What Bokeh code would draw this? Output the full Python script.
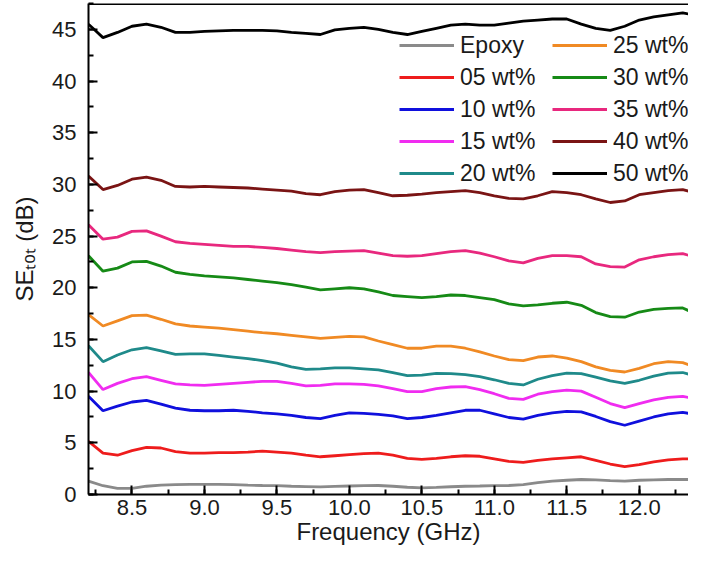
from bokeh.plotting import figure
from bokeh.models import (Legend, LegendItem, SingleIntervalTicker, PrintfTickFormatter,
                          Span, Range1d)
from bokeh.embed import file_html
from bokeh.resources import INLINE

# ---------------- data ----------------
freq = [8.2, 8.3, 8.4, 8.5, 8.6, 8.7, 8.8, 8.9, 9.0, 9.1, 9.2, 9.3, 9.4, 9.5, 9.6,
        9.7, 9.8, 9.9, 10.0, 10.1, 10.2, 10.3, 10.4, 10.5, 10.6, 10.7, 10.8, 10.9,
        11.0, 11.1, 11.2, 11.3, 11.4, 11.5, 11.6, 11.7, 11.8, 11.9, 12.0, 12.1,
        12.2, 12.3, 12.4]

se_epoxy = [1.3, 0.85, 0.6, 0.6, 0.8, 0.9, 0.95, 0.97, 0.97, 0.97, 0.95, 0.9, 0.87, 0.85,
            0.8, 0.77, 0.74, 0.78, 0.82, 0.85, 0.87, 0.8, 0.7, 0.65, 0.68, 0.75, 0.8, 0.82,
            0.85, 0.87, 0.95, 1.15, 1.3, 1.38, 1.45, 1.42, 1.35, 1.3, 1.38, 1.42, 1.45, 1.45, 1.45]
se_05 = [5.15, 4.0, 3.8, 4.25, 4.55, 4.5, 4.15, 4.0, 4.0, 4.05, 4.05, 4.1, 4.2, 4.1, 4.0,
         3.8, 3.65, 3.75, 3.85, 3.95, 4.0, 3.8, 3.5, 3.4, 3.5, 3.65, 3.75, 3.7, 3.45, 3.2,
         3.1, 3.3, 3.45, 3.55, 3.65, 3.3, 2.95, 2.7, 2.9, 3.15, 3.35, 3.45, 3.45]
se_10 = [9.5, 8.1, 8.55, 8.95, 9.1, 8.75, 8.35, 8.15, 8.1, 8.1, 8.15, 8.05, 7.9, 7.8, 7.65,
         7.45, 7.35, 7.65, 7.9, 7.85, 7.75, 7.6, 7.35, 7.45, 7.65, 7.9, 8.15, 8.15, 7.8, 7.45,
         7.3, 7.65, 7.9, 8.05, 8.0, 7.55, 7.05, 6.7, 7.1, 7.5, 7.8, 7.95, 7.7]
se_15 = [11.8, 10.15, 10.75, 11.2, 11.4, 11.05, 10.7, 10.6, 10.55, 10.65, 10.75, 10.85, 10.95,
         10.95, 10.75, 10.5, 10.55, 10.7, 10.7, 10.65, 10.5, 10.25, 9.95, 9.95, 10.25, 10.4,
         10.43, 10.15, 9.75, 9.3, 9.2, 9.7, 9.95, 10.1, 10.0, 9.4, 8.8, 8.4, 8.8, 9.15, 9.4, 9.5, 9.2]
se_20 = [14.4, 12.85, 13.5, 14.0, 14.2, 13.9, 13.55, 13.6, 13.6, 13.45, 13.3, 13.15, 12.95,
         12.7, 12.35, 12.1, 12.15, 12.25, 12.25, 12.15, 12.05, 11.8, 11.5, 11.55, 11.72, 11.7,
         11.6, 11.4, 11.1, 10.75, 10.6, 11.15, 11.5, 11.75, 11.7, 11.35, 11.0, 10.75, 11.05,
         11.45, 11.75, 11.8, 11.4]
se_25 = [17.4, 16.3, 16.8, 17.3, 17.35, 16.95, 16.5, 16.3, 16.2, 16.1, 15.95, 15.8, 15.65,
         15.55, 15.4, 15.25, 15.1, 15.2, 15.3, 15.25, 14.85, 14.5, 14.15, 14.15, 14.35, 14.35,
         14.15, 13.8, 13.4, 13.05, 12.95, 13.3, 13.4, 13.2, 12.85, 12.35, 12.0, 11.85, 12.2,
         12.65, 12.85, 12.75, 12.3]
se_30 = [23.1, 21.6, 21.9, 22.5, 22.55, 22.1, 21.5, 21.3, 21.15, 21.05, 20.95, 20.8, 20.65,
         20.5, 20.3, 20.05, 19.8, 19.9, 20.0, 19.9, 19.6, 19.25, 19.15, 19.05, 19.15, 19.3,
         19.25, 19.05, 18.85, 18.45, 18.25, 18.35, 18.5, 18.6, 18.3, 17.6, 17.2, 17.15, 17.65,
         17.9, 18.0, 18.05, 17.4]
se_35 = [26.1, 24.7, 24.9, 25.45, 25.5, 25.0, 24.45, 24.3, 24.2, 24.1, 24.0, 24.0, 23.9, 23.8,
         23.65, 23.5, 23.4, 23.5, 23.55, 23.6, 23.35, 23.1, 23.05, 23.1, 23.3, 23.5, 23.6, 23.35,
         23.0, 22.6, 22.4, 22.85, 23.1, 23.1, 23.0, 22.3, 22.05, 22.0, 22.7, 23.0, 23.2, 23.3, 22.9]
se_40 = [30.8, 29.5, 29.9, 30.5, 30.7, 30.4, 29.8, 29.75, 29.8, 29.75, 29.7, 29.65, 29.55,
         29.45, 29.35, 29.1, 29.0, 29.3, 29.45, 29.5, 29.2, 28.9, 28.95, 29.05, 29.2, 29.3, 29.4,
         29.2, 28.9, 28.65, 28.6, 28.9, 29.3, 29.2, 29.0, 28.6, 28.25, 28.4, 29.0, 29.2, 29.4,
         29.5, 29.1]
se_50 = [45.5, 44.2, 44.7, 45.3, 45.5, 45.2, 44.7, 44.7, 44.8, 44.85, 44.9, 44.9, 44.9, 44.85,
         44.7, 44.6, 44.5, 44.95, 45.1, 45.2, 45.0, 44.7, 44.5, 44.8, 45.1, 45.4, 45.5, 45.4,
         45.4, 45.6, 45.8, 45.9, 46.0, 46.0, 45.5, 45.1, 44.9, 45.3, 45.9, 46.2, 46.4, 46.6, 46.3]

names_col1 = ["Epoxy", "05 wt%", "10 wt%", "15 wt%", "20 wt%"]
names_col2 = ["25 wt%", "30 wt%", "35 wt%", "40 wt%", "50 wt%"]
series_col1 = [se_epoxy, se_05, se_10, se_15, se_20]
series_col2 = [se_25, se_30, se_35, se_40, se_50]
colors_col1 = ["#8a8a8a", "#ee1c1c", "#1010dd", "#f02cf0", "#1f8a8a"]
colors_col2 = ["#f08a24", "#168a16", "#e8287e", "#7a1414", "#000000"]

x_ticks_interval = 0.5
y_ticks_interval = 5

FONT = "Liberation Sans"
TXT = "#1a1a1a"

p = figure(width=688, height=554, output_backend="svg", toolbar_location=None,
           x_range=Range1d(8.2, 12.34), y_range=Range1d(0, 47.5),
           min_border_left=88, min_border_right=0, min_border_top=3,
           min_border_bottom=60)
p.outline_line_color = None
p.xgrid.visible = False
p.ygrid.visible = False
p.background_fill_color = "white"
p.border_fill_color = "white"

def make_items(names, series, colors):
    items = []
    for n, s, c in zip(names, series, colors):
        r = p.line(freq, s, line_color=c, line_width=2.8)
        items.append(LegendItem(label=n, renderers=[r]))
    return items

items1 = make_items(names_col1, series_col1, colors_col1)
items2 = make_items(names_col2, series_col2, colors_col2)

for items, xloc in ((items1, 311), (items2, 464)):
    lg = Legend(items=items, location=(xloc, 306), orientation="vertical",
                glyph_width=55, glyph_height=30, label_height=30, spacing=2,
                label_standoff=6, padding=0, margin=0,
                border_line_color=None, background_fill_alpha=0,
                label_text_font=FONT, label_text_font_size="23px",
                label_text_color=TXT)
    p.add_layout(lg)

# top frame line
p.add_layout(Span(location=47.45, dimension="width", line_color="black", line_width=2))

# axes
p.xaxis.ticker = SingleIntervalTicker(interval=x_ticks_interval, num_minor_ticks=2)
p.yaxis.ticker = SingleIntervalTicker(interval=y_ticks_interval, num_minor_ticks=2)
p.xaxis.formatter = PrintfTickFormatter(format="%.1f")
for ax in (p.xaxis, p.yaxis):
    ax.axis_line_color = "black"
    ax.axis_line_width = 2
    ax.major_tick_in = 9
    ax.major_tick_out = 0
    ax.minor_tick_in = 5
    ax.minor_tick_out = 0
    ax.major_tick_line_width = 2
    ax.minor_tick_line_width = 2
    ax.major_tick_line_color = "black"
    ax.minor_tick_line_color = "black"
    ax.major_label_text_font = FONT
    ax.major_label_text_font_size = "22px"
    ax.major_label_text_color = TXT
    ax.axis_label_text_font = FONT
    ax.axis_label_text_font_size = "24px"
    ax.axis_label_text_font_style = "normal"
    ax.axis_label_text_color = TXT
p.xaxis.major_label_standoff = 5
p.yaxis.major_label_standoff = 12
p.xaxis.axis_label = "Frequency (GHz)"
p.xaxis.axis_label_standoff = 0
p.yaxis.axis_label = "SE\u209c\u2092\u209c (dB)"
p.yaxis.axis_label_standoff = 11

open("out.html", "w").write(file_html(p, INLINE))
